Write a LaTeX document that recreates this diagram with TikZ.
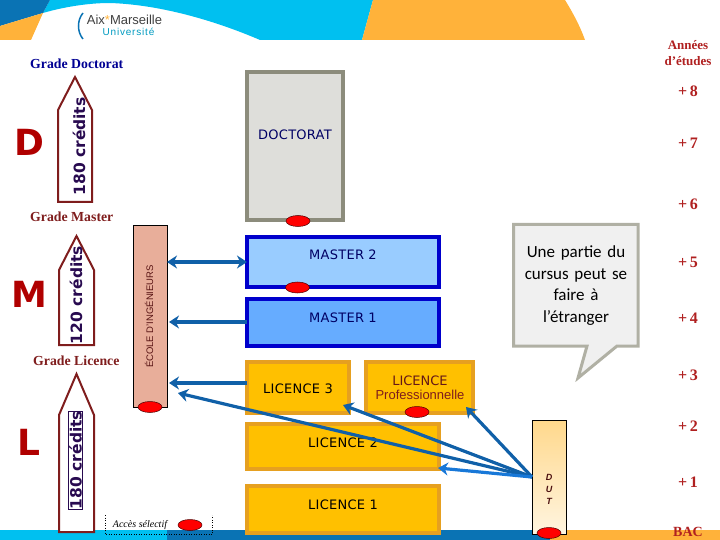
\documentclass[tikz,border=0pt]{standalone}
\usepackage{fontspec}
\setmainfont{Liberation Serif}
\newfontfamily\verdfont{DejaVu Sans}
\newfontfamily\calfont{Carlito}
\newfontfamily\arialfont{Liberation Sans}
\usetikzlibrary{arrows.meta,positioning,calc,shapes.geometric}
\definecolor{bandcyan}{RGB}{0,192,240}
\definecolor{bandblue}{RGB}{10,115,180}
\definecolor{bandgold}{RGB}{255,178,58}
\definecolor{docedge}{RGB}{140,140,124}
\definecolor{docfill}{RGB}{222,222,218}
\definecolor{masedge}{RGB}{0,0,204}
\definecolor{mastwo}{RGB}{153,204,255}
\definecolor{masone}{RGB}{102,172,255}
\definecolor{licedge}{RGB}{230,160,32}
\definecolor{licfill}{RGB}{255,192,0}
\definecolor{ecolefill}{RGB}{232,174,154}
\definecolor{dutfill}{RGB}{255,216,140}
\definecolor{dutpale}{RGB}{255,245,224}
\definecolor{noteedge}{RGB}{176,176,164}
\definecolor{notefill}{RGB}{240,240,240}
\definecolor{gradred}{RGB}{127,29,29}
\definecolor{yearred}{RGB}{176,32,32}
\definecolor{bigred}{RGB}{176,0,0}
\definecolor{credit}{RGB}{40,10,80}
\definecolor{navy}{RGB}{0,0,100}
\definecolor{flowblue}{RGB}{16,96,168}
\definecolor{flowlight}{RGB}{24,120,216}
\tikzset{
  lvlbox/.style={rectangle,outer sep=0pt,line width=4pt,inner sep=0pt},
  bdoc/.style={lvlbox,draw=docedge,fill=docfill},
  bmaster/.style={lvlbox,draw=masedge},
  blicence/.style={lvlbox,draw=licedge,fill=licfill},
  lvltext/.style={font=\verdfont\fontsize{13}{15}\selectfont\addfontfeature{LetterSpace=2},text=navy,inner sep=0pt},
  dot/.style={ellipse,draw=black!70!red,line width=0.5pt,fill=red,minimum width=24pt,minimum height=11pt,inner sep=0pt},
  grade/.style={font=\bfseries\fontsize{13.8}{16}\selectfont,anchor=west,inner sep=0pt},
  year/.style={font=\bfseries\fontsize{16}{18}\selectfont,text=yearred,inner sep=0pt},
  bigletter/.style={font=\verdfont\bfseries\fontsize{36}{38}\selectfont,text=bigred,inner sep=0pt},
  credits/.style={font=\verdfont\bfseries\fontsize{15.5}{18}\selectfont,text=credit,rotate=90,inner sep=0pt},
  gradearrow/.style={draw=gradred,line width=2pt,fill=white,line join=miter},
  flow/.style={-{Stealth[length=10pt,width=13pt]},line width=3.2pt,draw=flowblue},
}
\begin{document}
\begin{tikzpicture}[x=1pt,y=-1pt]
  \useasboundingbox (0,0) rectangle (720,540);

  % bandeau du haut
  \fill[bandcyan] (50,0) -- (373,0) -- (362,40) -- (260,40)
    .. controls (230,27) and (170,5) .. (110,3) .. controls (85,3) and (60,8) .. (43,13) -- cycle;
  \fill[bandblue] (0,0) -- (50,0) -- (43,13) -- (0,26) -- cycle;
  \fill[bandgold] (0,26) -- (43,13) -- (31,40) -- (0,40) -- cycle;
  \fill[bandgold] (373,0) -- (565,0) .. controls (573,13) and (580,26) .. (585,40) -- (362,40) -- cycle;

  % bandeau du bas
  \fill[bandcyan] (0,530) rectangle (167,540);
  \fill[bandblue] (167,530) rectangle (550,540);
  \fill[bandgold] (550,530) rectangle (720,540);

  % logo
  \draw[bandblue,line width=1.5pt] (83,13) .. controls (77,20) and (77,32) .. (83,39);
  \node[font=\arialfont\fontsize{13}{13}\selectfont,text=black!75,inner sep=0pt] (aix) at (124.5,20)
    {Aix\textcolor{bandgold}{*}Marseille};
  \node[font=\arialfont\fontsize{10}{10}\selectfont\addfontfeature{LetterSpace=8},text=bandcyan!80!black,inner sep=0pt] (univ) at (128.5,31.5) {Université};

  % textes de gauche
  \node[grade,text=navy!70!blue] (gdoc) at (30,64) {Grade Doctorat};
  \node[grade,text=gradred] (gmas) at (30,217) {Grade Master};
  \node[grade,text=gradred] (glic) at (33,361) {Grade Licence};

  \node[bigletter] (letd) at (29,142) {D};
  \node[bigletter] (letm) at (29,294.5) {M};
  \node[bigletter] (letl) at (29,442.5) {L};

  % fleches des grades
  \draw[gradearrow] (75,77) -- (92,110) -- (92,202) -- (58,202) -- (58,110) -- cycle;
  \draw[gradearrow] (76.5,236) -- (94,270) -- (94,345) -- (59,345) -- (59,270) -- cycle;
  \draw[gradearrow] (76.5,374) -- (94,415) -- (94,532) -- (59,532) -- (59,415) -- cycle;
  \node[credits] (cred) at (79,146.5) {180 crédits};
  \node[credits] (crem) at (76,295) {120 crédits};
  \node[credits,draw=credit,line width=0.4pt,fill=white,inner ysep=0.5pt] (crel) at (75.5,460) {180 crédits};

  % cursus
  \node[bdoc,minimum width=96pt,minimum height=148pt] (doct) at (295,146) {};
  \node[bmaster,fill=mastwo,minimum width=192pt,minimum height=50pt] (mas2) at (343,262) {};
  \node[bmaster,fill=masone,minimum width=192pt,minimum height=47pt] (mas1) at (343,322.5) {};
  \node[blicence,minimum width=102pt,minimum height=51pt] (lic3) at (298,387.5) {};
  \node[blicence,minimum width=107pt,minimum height=51pt] (licp) at (419.5,387.5) {};
  \node[blicence,minimum width=192pt,minimum height=45pt] (lic2) at (343,446.5) {};
  \node[blicence,minimum width=192pt,minimum height=47pt] (lic1) at (343,509.5) {};

  \node[lvltext] (tdoc) at (295,135) {DOCTORAT};
  \node[lvltext] (tmas2) at (343,254.5) {MASTER 2};
  \node[lvltext] (tmas1) at (343,317.5) {MASTER 1};
  \node[lvltext,text=black] (tlic3) at (298,388.5) {LICENCE 3};
  \node[lvltext,text=black] (tlic2) at (343,442.5) {LICENCE 2};
  \node[lvltext,text=black] (tlic1) at (343,505) {LICENCE 1};
  \node[lvltext,text=gradred!80!black,font=\verdfont\fontsize{13}{15}\selectfont,align=center] (tlicp) at (420,387.5)
    {LICENCE\\[-1pt]\textcolor{gradred}{\arialfont\fontsize{13}{15}\selectfont Professionnelle}};

  % ecole et DUT
  \node[rectangle,draw=black,line width=0.6pt,fill=ecolefill,outer sep=0pt,minimum width=34pt,minimum height=182pt] (ecole) at (150,316) {};
  \node[rotate=90,font=\arialfont\fontsize{9.5}{11}\selectfont,text=gradred!70!black,inner sep=0pt] (tecole) at (149,316.5) {ÉCOLE D’INGÉNIEURS};
  \node[rectangle,draw=black,line width=0.6pt,top color=dutfill,bottom color=dutpale,outer sep=0pt,minimum width=34pt,minimum height=114pt] (dut) at (549,477) {};
  \node[align=center,font=\arialfont\bfseries\itshape\fontsize{9}{12}\selectfont,text=gradred!60!black,inner sep=0pt] (tdut) at (549,489.5) {D\\U\\T};

  % bulle
  \draw[noteedge,fill=notefill,line width=3pt,line join=miter]
    (513.5,224.5) -- (638,224.5) -- (638,346) -- (617,346) -- (578,378) -- (587,346) -- (513.5,346) -- cycle;
  \node[align=center,font=\calfont\fontsize{17}{21.7}\selectfont,text=black,inner sep=0pt,text width=120pt] (note) at (576,285.5)
    {Une partie du\\cursus peut se\\faire à\\l’étranger};

  % acces selectif
  \draw[dotted,line width=0.5pt] (105,515) -- (105,534) coordinate (accsw) -- (212,534) -- (212,515) coordinate (accne);
  \node[font=\itshape\fontsize{10}{12}\selectfont,inner sep=0pt] (acces) at (140,525) {Accès sélectif};

  % repere des ecoles
  \coordinate (tipecole) at (178,393);
  \coordinate (tiplic3) at (343,405);
  \coordinate (tiplicp) at (466,407);
  \coordinate (tiplic2) at (438,468);

  \draw[flow,{Stealth[length=10pt,width=13pt]}-{Stealth[length=10pt,width=13pt]}] (ecole.east |- mas2.west) -- (mas2.west);
  \draw[flow,shorten >=2pt] (mas1.west |- 0,322) -- (ecole.east |- 0,322);
  \draw[flow,shorten >=2pt] (lic3.west |- 0,383) -- (ecole.east |- 0,383);
  \draw[flow] (dut.west) -- (tipecole);
  \draw[flow] (dut.west) -- (tiplic3);
  \draw[flow] (dut.west) -- (tiplicp);
  \draw[flow,draw=flowlight] (dut.west) -- (tiplic2);

  % points rouges
  \node[dot] (ddoc) at (298,221) {};
  \node[dot] (dmas) at (297.5,287.5) {};
  \node[dot] (dec) at (150,407) {};
  \node[dot] (dlicp) at (417,412) {};
  \node[dot] (ddut) at (549,533) {};
  \node[dot] (dacc) at (190,525) {};

  % annees
  \node[year,font=\bfseries\fontsize{13}{16}\selectfont,align=center] (annees) at (688,53) {Années\\d’études};
  \node[year] (y8) at (688,91) {+\,8};
  \node[year] (y7) at (688,143) {+\,7};
  \node[year] (y6) at (688,204) {+\,6};
  \node[year] (y5) at (688,262) {+\,5};
  \node[year] (y4) at (688,318) {+\,4};
  \node[year] (y3) at (688,375) {+\,3};
  \node[year] (y2) at (688,426) {+\,2};
  \node[year] (y1) at (688,482) {+\,1};
  \node[year,font=\bfseries\fontsize{14}{16}\selectfont] (bac) at (688,532) {BAC};
\end{tikzpicture}
\end{document}
